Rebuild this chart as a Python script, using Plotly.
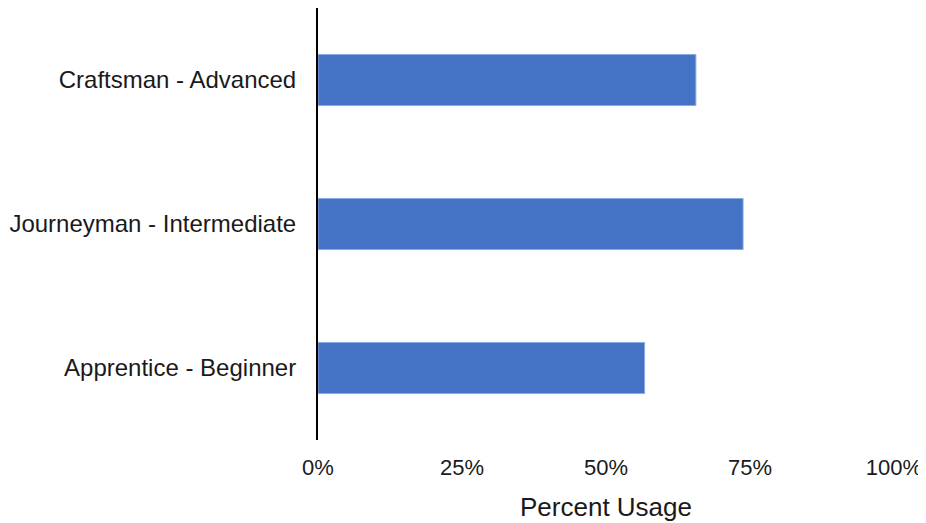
import plotly.graph_objects as go

# skill levels, bottom to top
levels = ["Apprentice - Beginner", "Journeyman - Intermediate", "Craftsman - Advanced"]
usage = [0.567, 0.738, 0.656]

tick_vals = [0, 0.25, 0.5, 0.75, 1.0]
tick_text = ["0%", "25%", "50%", "75%", "100%"]

fig = go.Figure()

fig.add_trace(go.Bar(y=levels,
                     x=usage,
                     orientation="h",
                     marker=dict(color="#4472C4",
                                 line=dict(color="#8FAADC", width=1)),
                     showlegend=False))

# page body adds an 8px margin, so the figure is 8px smaller than the window
fig.update_layout(width=918,
                  height=515,
                  margin=dict(l=310, r=32, t=0, b=83),
                  paper_bgcolor="white",
                  plot_bgcolor="white",
                  bargap=0.645,
                  font=dict(family="Liberation Sans, Arial, sans-serif",
                            color="#1a1a1a"))

fig.update_xaxes(range=[0, 1],
                 automargin=False,
                 tickvals=tick_vals,
                 ticktext=tick_text,
                 tickfont=dict(size=22),
                 showgrid=False,
                 zeroline=False,
                 showline=False,
                 ticks="",
                 ticklabelstandoff=12,
                 title=dict(text="Percent Usage",
                            font=dict(size=26),
                            standoff=18))

fig.update_yaxes(automargin=False,
                 showgrid=False,
                 zeroline=False,
                 showline=True,
                 linecolor="black",
                 linewidth=2,
                 ticks="",
                 ticklabelstandoff=15,
                 tickfont=dict(size=24))

fig.write_html("out.html")
